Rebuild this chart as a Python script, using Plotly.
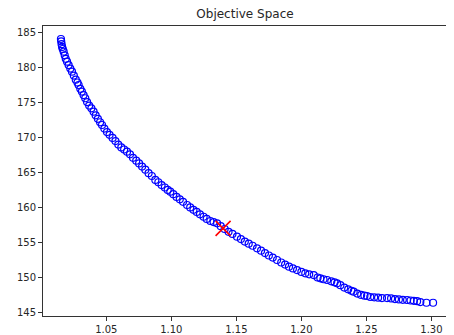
import plotly.graph_objects as go

f1 = [1.0151, 1.0153, 1.0156, 1.0160, 1.0165, 1.0172, 1.0180, 1.0188, 1.0198, 1.0210,
      1.0223, 1.0236, 1.0250, 1.0265, 1.0278, 1.0287, 1.0300, 1.0312, 1.0325, 1.0338,
      1.0352, 1.0368, 1.0385, 1.0402, 1.0418, 1.0435, 1.0452, 1.0467, 1.0485, 1.0505,
      1.0525, 1.0548, 1.0570, 1.0592, 1.0615, 1.0637, 1.0659, 1.0682, 1.0705, 1.0730,
      1.0752, 1.0775, 1.0800, 1.0825, 1.0850, 1.0877, 1.0900, 1.0925, 1.0950, 1.0972,
      1.0992, 1.1015, 1.1040, 1.1065, 1.1090, 1.1121, 1.1145, 1.1170, 1.1195, 1.1220,
      1.1248, 1.1272, 1.1300, 1.1325, 1.1352, 1.1380, 1.1410, 1.1440, 1.1470, 1.1505,
      1.1535, 1.1565, 1.1595, 1.1625, 1.1659, 1.1690, 1.1720, 1.1750, 1.1780, 1.1813,
      1.1845, 1.1875, 1.1905, 1.1935, 1.1967, 1.2000, 1.2030, 1.2060, 1.2095, 1.2125,
      1.2146, 1.2170, 1.2198, 1.2230, 1.2255, 1.2275, 1.2300, 1.2330, 1.2360, 1.2385,
      1.2402, 1.2430, 1.2460, 1.2485, 1.2505, 1.2530, 1.2560, 1.2590, 1.2620, 1.2659,
      1.2690, 1.2720, 1.2750, 1.2780, 1.2813, 1.2840, 1.2865, 1.2890, 1.2915, 1.2962,
      1.3013]
f2 = [184.14, 183.8, 183.4, 183.0, 182.7, 182.32, 181.8, 181.3, 180.89, 180.4,
      179.9, 179.45, 178.9, 178.3, 177.9, 177.54, 177.0, 176.6, 176.1, 175.64,
      175.1, 174.6, 174.2, 173.72, 173.2, 172.7, 172.2, 171.81, 171.3, 170.8,
      170.4, 169.95, 169.5, 169.0, 168.6, 168.3, 167.98, 167.6, 167.1, 166.7,
      166.3, 165.85, 165.4, 164.9, 164.5, 163.93, 163.6, 163.2, 162.85, 162.5,
      162.25, 161.9, 161.5, 161.15, 160.8, 160.34, 160.0, 159.65, 159.35, 159.0,
      158.66, 158.35, 158.05, 157.9, 157.72, 157.3, 156.9, 156.5, 156.2, 155.80,
      155.45, 155.1, 154.8, 154.5, 154.13, 153.8, 153.45, 153.1, 152.8, 152.46,
      152.1, 151.8, 151.5, 151.25, 151.02, 150.75, 150.55, 150.4, 150.30, 149.95,
      149.83, 149.7, 149.59, 149.4, 149.25, 149.11, 148.85, 148.5, 148.25, 148.05,
      147.91, 147.65, 147.45, 147.35, 147.30, 147.15, 147.1, 147.05, 147.0, 147.0,
      146.95, 146.85, 146.8, 146.75, 146.72, 146.65, 146.6, 146.55, 146.43, 146.33,
      146.33]

selected_f1 = [1.1398]
selected_f2 = [157.0]

x_ticks = [1.05, 1.10, 1.15, 1.20, 1.25, 1.30]
x_labels = ["1.05", "1.10", "1.15", "1.20", "1.25", "1.30"]
y_ticks = [145, 150, 155, 160, 165, 170, 175, 180, 185]
y_labels = [str(v) for v in y_ticks]

fig = go.Figure()
fig.add_trace(go.Scatter(
    x=f1, y=f2, mode="markers",
    marker=dict(symbol="circle-open", size=7, color="blue", line=dict(width=1.2, color="blue")),
    showlegend=False, hoverinfo="skip"))
fig.add_trace(go.Scatter(
    x=selected_f1, y=selected_f2, mode="markers",
    marker=dict(symbol="x-thin-open", size=15, color="red", line=dict(width=1.6, color="red")),
    showlegend=False, hoverinfo="skip"))

axis_common = dict(
    showgrid=False, zeroline=False, showline=True, mirror=True, automargin=False,
    linecolor="#333333", linewidth=1, ticks="outside", ticklen=4, tickwidth=1,
    tickcolor="#333333", tickfont=dict(family="DejaVu Sans", size=10, color="#262626"))

# the page body adds an 8px offset, so the figure is 8px smaller than the window
fig.update_layout(
    width=446, height=327,
    margin=dict(l=35, r=7, t=18, b=19),
    paper_bgcolor="white", plot_bgcolor="white",
    title=dict(text="Objective Space", x=0.5, xref="paper", xanchor="center",
               yref="container", y=1 - 6 / 327, yanchor="middle",
               font=dict(family="DejaVu Sans", size=12, color="#262626")),
    xaxis=dict(range=[1.0013, 1.312], tickvals=x_ticks, ticktext=x_labels, **axis_common),
    yaxis=dict(range=[144.43, 186.0], tickvals=y_ticks, ticktext=y_labels, **axis_common),
)

fig.write_html("out.html")
